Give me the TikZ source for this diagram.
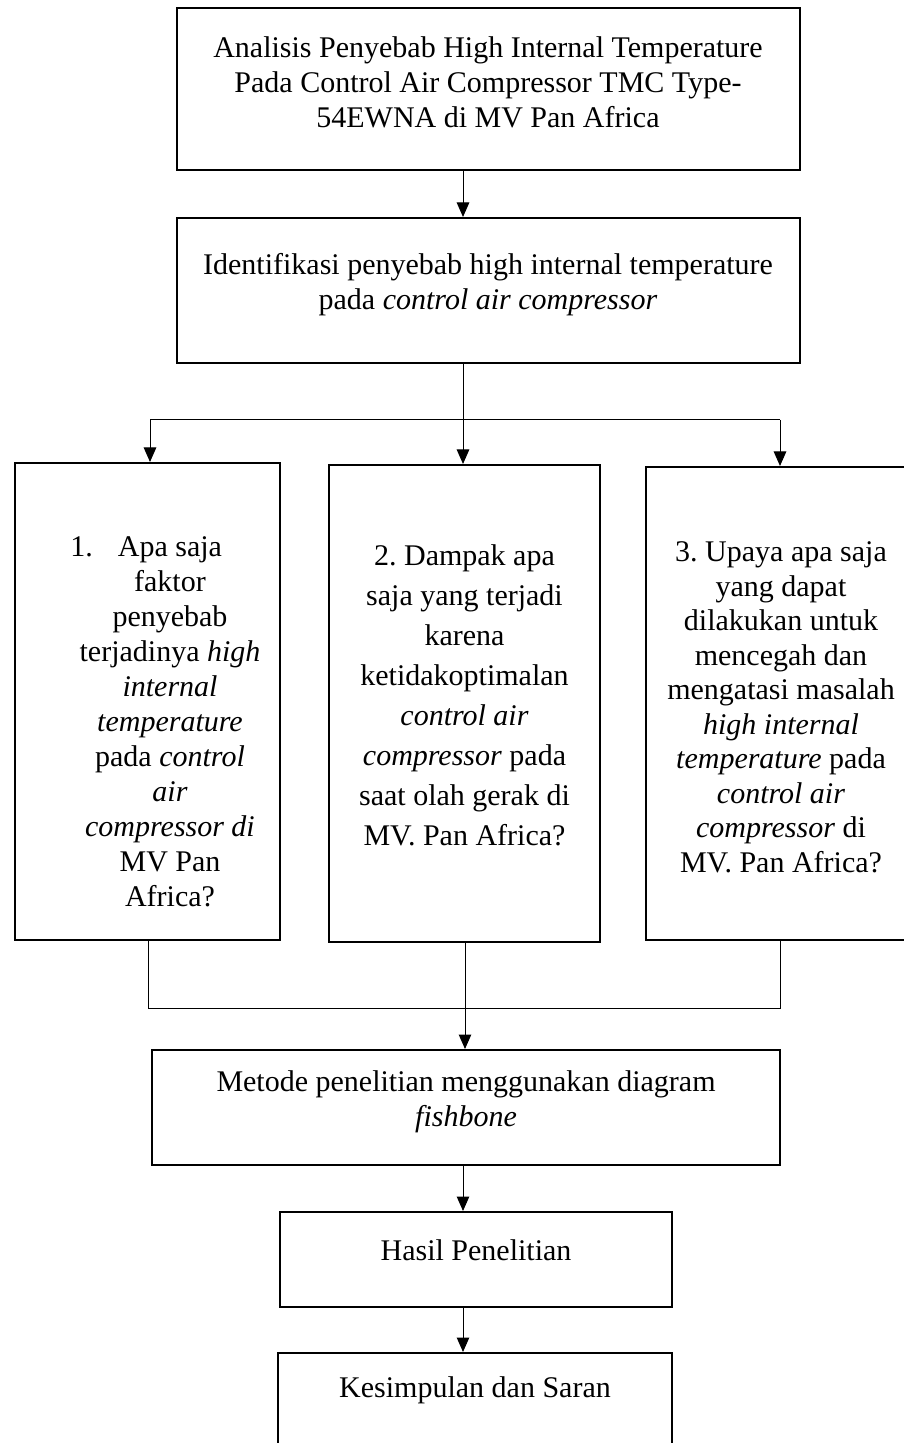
\documentclass[tikz,border=0pt]{standalone}
\usepackage{fontspec}
\setmainfont{Liberation Serif}
\usetikzlibrary{arrows.meta,positioning}

\begin{document}
\begin{tikzpicture}[x=0.4pt, y=-0.4pt,
    box/.style={draw, line width=0.8pt, inner sep=0pt},
    txt/.style={align=center, inner sep=0pt, font=\fontsize{12}{14}\selectfont},
    arr/.style={-{Triangle[length=5.8pt,width=5pt]}, line width=0.4pt},
    link/.style={line width=0.4pt}]
    \useasboundingbox (0,0) rectangle (904,1443);
    \coordinate (spine) at (463,0);

    % boxes
    \node[box, minimum width=249.2pt, minimum height=64.8pt] (judul) at (488.5,89) {};
    \node[box, minimum width=249.2pt, minimum height=58pt] (identifikasi) at (488.5,290.5) {};
    \node[box, minimum width=106pt, minimum height=190.8pt] (rumusA) at (147.5,701.5) {};
    \node[box, minimum width=108.4pt, minimum height=190.8pt] (rumusB) at (464.5,703.5) {};
    \node[box, minimum width=108pt, minimum height=189.2pt] (rumusC) at (781,703.5) {};
    \node[box, minimum width=251.2pt, minimum height=46pt] (metode) at (466,1107.5) {};
    \node[box, minimum width=156.8pt, minimum height=38pt] (hasil) at (476,1259.5) {};
    \node[box, minimum width=157.6pt, minimum height=40pt] (simpulan) at (475,1403) {};

    % texts
    \node[txt] (tjudul) at (488,82) {Analisis Penyebab High Internal Temperature\\ Pada Control Air Compressor TMC Type-\\ 54EWNA di MV Pan Africa};
    \node[txt] (tidentifikasi) at (488,285) {Identifikasi penyebab high internal temperature\\ pada \textit{control air compressor}};
    \node[txt] (trumusA) at (170,722) {\llap{1.\hspace{10pt}}Apa saja\\ faktor\\ penyebab\\ terjadinya \textit{high}\\ \textit{internal}\\ \textit{temperature}\\ pada \textit{control}\\ \textit{air}\\ \textit{compressor di}\\ MV Pan\\ Africa?};
    \node[txt, font=\fontsize{12}{16}\selectfont] (trumusB) at (464.5,695) {2.\ Dampak apa\\ saja yang terjadi\\ karena\\ ketidakoptimalan\\ \textit{control air}\\ \textit{compressor} pada\\ saat olah gerak di\\ MV. Pan Africa?};
    \node[txt, font=\fontsize{12}{13.8}\selectfont] (trumusC) at (781,707.5) {3.\ Upaya apa saja\\ yang dapat\\ dilakukan untuk\\ mencegah dan\\ mengatasi masalah\\ \textit{high internal}\\ \textit{temperature} pada\\ \textit{control air}\\ \textit{compressor} di\\ MV. Pan Africa?};
    \node[txt] (tmetode) at (466,1102) {Metode penelitian menggunakan diagram\\ \textit{fishbone}};
    \node[txt] (thasil) at (476,1250) {Hasil Penelitian};
    \node[txt] (tsimpulan) at (475,1390) {Kesimpulan dan Saran};

    % branching
    \coordinate (split) at (463,420);
    \coordinate (splitL) at (150,420);
    \coordinate (splitR) at (780,420);
    \coordinate (join) at (465,1008);
    \coordinate (joinL) at (148,1008);
    \coordinate (joinR) at (780,1008);

    \draw[arr] (judul.south -| spine) -- (identifikasi.north -| spine);
    \draw[link] (identifikasi.south -| spine) -- (split);
    \draw[link] (splitL) -- (splitR);
    \draw[arr] (splitL) -- (rumusA.north -| splitL);
    \draw[arr] (split) -- (rumusB.north -| split);
    \draw[arr] (splitR) -- (rumusC.north -| splitR);
    \draw[link] (rumusA.south -| joinL) -- (joinL) -- (joinR) -- (rumusC.south -| joinR);
    \draw[link] (rumusB.south -| join) -- (join);
    \draw[arr] (join) -- (metode.north -| join);
    \draw[arr] (metode.south -| spine) -- (hasil.north -| spine);
    \draw[arr] (hasil.south -| spine) -- (simpulan.north -| spine);
\end{tikzpicture}
\end{document}
